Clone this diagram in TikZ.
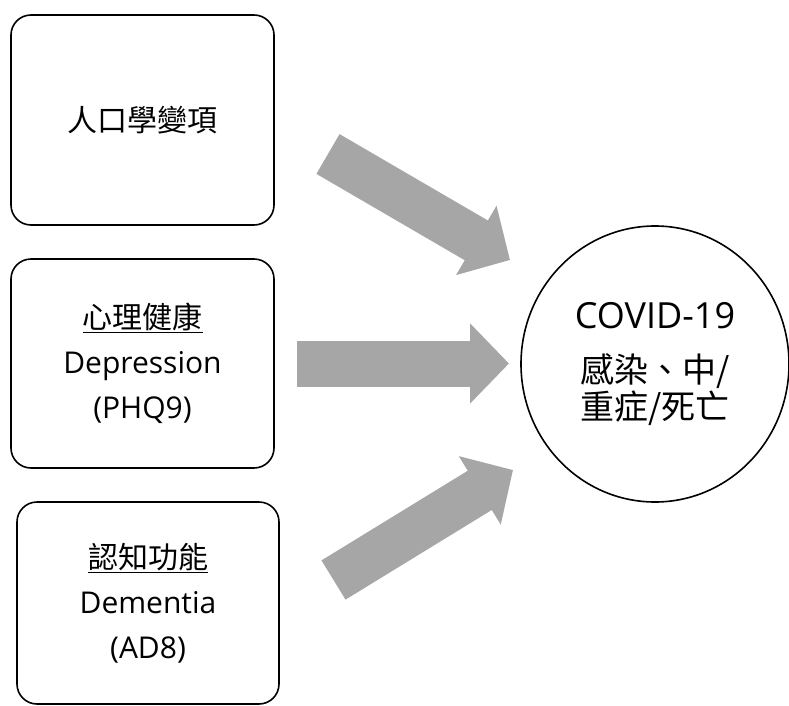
\documentclass[tikz,border=0pt]{standalone}
\usepackage{fontspec}
\setmainfont{Open Sans}
\newfontfamily\cjk{Noto Sans CJK TC}
\usepackage{tikz}
\usetikzlibrary{arrows.meta,shapes.geometric}

\definecolor{arrowgray}{HTML}{A6A6A6}

\begin{document}
\begin{tikzpicture}[x=1pt,y=-1pt,
     factor/.style={draw,line width=1.6pt,rectangle,rounded corners=20pt,
        minimum width=263pt,align=center,font=\fontsize{30}{45}\selectfont},
     outcome/.style={draw,line width=1.6pt,ellipse,minimum width=268pt,
        minimum height=276pt,align=center,font=\fontsize{34}{37}\selectfont},
     bigarrow/.style={draw=arrowgray,line width=46pt,
        -{Triangle[length=39pt,width=78pt]}}
     ]
   \useasboundingbox (0,0) rectangle (789,706);

   % the three blocks on the left
   \node[factor,minimum height=210pt] (demo) at (142.5,120) {\cjk 人口學變項};
   \node[factor,minimum height=209pt] (mental) at (142.5,363.5)
      {\underline{\cjk 心理健康}\\Depression\\(PHQ9)};
   \node[factor,minimum width=262pt,minimum height=202pt] (cogn) at (148,603)
      {\underline{\cjk 認知功能}\\Dementia\\(AD8)};

   % the outcome
   \node[outcome] (covid) at (655,364)
      {{\fontsize{36}{37}\selectfont COVID-19}\\[17pt]
       {\cjk 感染、中/}\\{\cjk 重症/死亡}};

   % free ends of the block arrows
   \coordinate (demoT) at (328,154);
   \coordinate (demoH) at (510,260);
   \coordinate (mentalT) at (297,363.5);
   \coordinate (mentalH) at (509,363.5);
   \coordinate (cognT) at (333.5,580);
   \coordinate (cognH) at (513,470);

   \foreach \from in {demo,mental,cogn}
   {
     \draw[bigarrow] (\from T) -- (\from H);
   }
\end{tikzpicture}
\end{document}
